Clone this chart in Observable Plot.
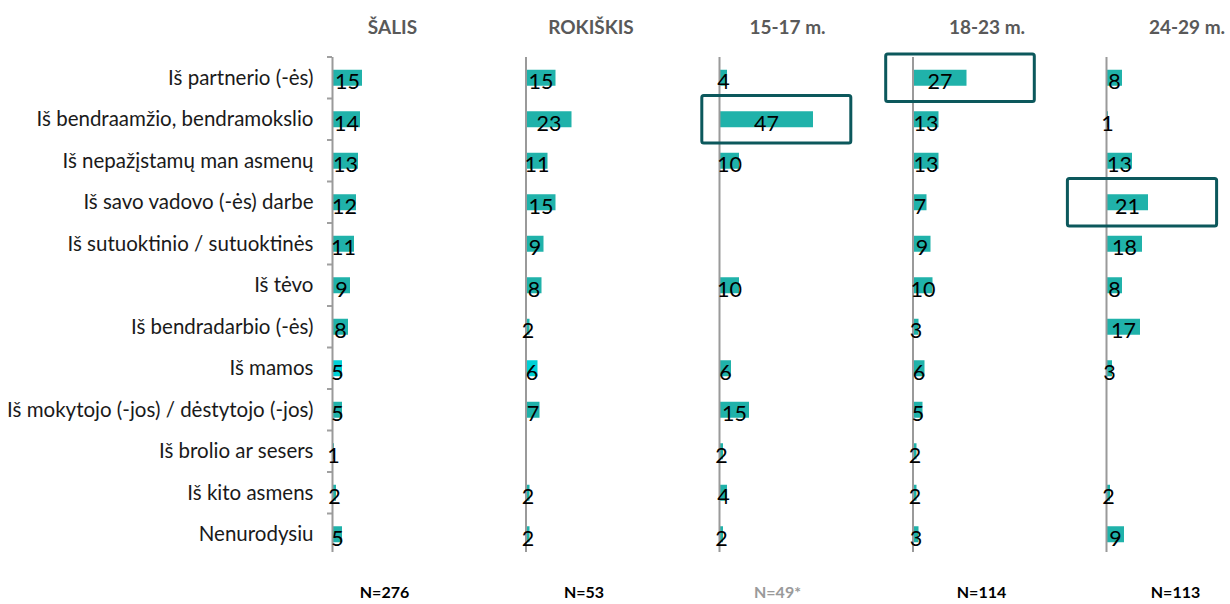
<!DOCTYPE html>
<html><head><meta charset="utf-8">
<script src="https://cdn.jsdelivr.net/npm/d3@7"></script>
<script src="https://cdn.jsdelivr.net/npm/@observablehq/plot@0.6"></script>
<style>body{margin:0;background:#fff}</style></head>
<body><div id="chart"></div>
<script>
// ---- data ----
const panels = ["ŠALIS", "ROKIŠKIS", "15-17 m.", "18-23 m.", "24-29 m."];
const sampleSizes = ["N=276", "N=53", "N=49*", "N=114", "N=113"];
const smallSamplePanels = ["15-17 m."];
const categories = [
  "Iš partnerio (-ės)",
  "Iš bendraamžio, bendramokslio",
  "Iš nepažįstamų man asmenų",
  "Iš savo vadovo (-ės) darbe",
  "Iš sutuoktinio / sutuoktinės",
  "Iš tėvo",
  "Iš bendradarbio (-ės)",
  "Iš mamos",
  "Iš mokytojo (-jos) / dėstytojo (-jos)",
  "Iš brolio ar sesers",
  "Iš kito asmens",
  "Nenurodysiu"
];
const salis    = [15, 14, 13, 12, 11, 9, 8, 5, 5, 1, 2, 5];
const rokiskis = [15, 23, 11, 15, 9, 8, 2, 6, 7, null, 2, 2];
const age1517  = [4, 47, 10, null, null, 10, null, 6, 15, 2, 4, 2];
const age1823  = [27, 13, 13, 7, 9, 10, 3, 6, 5, 2, 2, 3];
const age2429  = [8, 1, 13, 21, 18, 8, 17, 3, null, null, 2, 9];
const brightBars = [["ŠALIS", "Iš mamos"], ["ROKIŠKIS", "Iš mamos"]];
const highlights = [
  {panel: "15-17 m.", category: "Iš bendraamžio, bendramokslio", from: -8.6, to: 65.9},
  {panel: "18-23 m.", category: "Iš partnerio (-ės)", from: -13.4, to: 60.9},
  {panel: "24-29 m.", category: "Iš savo vadovo (-ės) darbe", from: -19.3, to: 55.3}
];

// ---- build table ----
const series = [salis, rokiskis, age1517, age1823, age2429];
const rows = [];
panels.forEach((p, i) => categories.forEach((c, j) => {
  const v = series[i][j];
  if (v != null) rows.push({panel: p, category: c, value: v});
}));
const nRows = panels.map((p, i) => ({panel: p, n: sampleSizes[i]}));
const isBright = d => brightBars.some(([p, c]) => p === d.panel && c === d.category);

// ---- layout ----
const W = 1230, H = 604, mL = 332, mR = 4, mT = 57, mB = 49;
const step = 193.5, bw = 120;
const pInner = (step - bw) / step;
const rowStep = (H - mT - mB) / categories.length;
const barInset = (rowStep - 16) / 2;
const headerDx = [60, 65, 68, 74, 80.5];
const nDx = [52, 58, 58, 68.5, 69];

const chart = Plot.plot({
  width: W, height: H,
  marginLeft: mL, marginRight: mR, marginTop: mT, marginBottom: mB,
  style: {fontFamily: "Lato, sans-serif", fontSize: "20.5px", color: "#1a1a1a", background: "#fff"},
  fx: {domain: panels, paddingInner: pInner, paddingOuter: 0, round: false, axis: null, label: null},
  x: {domain: [0, 60], axis: null},
  y: {domain: categories, padding: 0, round: false, tickSize: 0, tickPadding: 19, label: null},
  marks: [
    Plot.barX(categories, {y: d => d, fx: () => "ŠALIS", x1: -2.5, x2: 0, fill: "#a0a0a0",
      insetTop: -1, insetBottom: rowStep - 1}),
    Plot.barX(rows, {fx: "panel", y: "category", x: "value",
      fill: d => isBright(d) ? "#00D0D6" : "#20B2AA",
      insetTop: barInset, insetBottom: barInset}),
    Plot.ruleX([0], {stroke: "#9a9a9a", strokeWidth: 2, insetBottom: 3}),
    Plot.text(rows, {fx: "panel", y: "category", x: d => d.value / 2, text: d => String(d.value),
      fontSize: 21.5, fill: "#000", dy: 4}),
    Plot.barX(highlights, {fx: "panel", y: "category", x1: "from", x2: "to",
      fill: "none", stroke: "#0C585C", strokeWidth: 3, insetTop: -3, insetBottom: -3, rx: 2}),
    Plot.text(panels, {fx: d => d, x: (d, i) => headerDx[i] / 2, text: d => d,
      frameAnchor: "top", lineAnchor: "middle", dy: -30,
      fontWeight: "bold", fontSize: 19, fill: "#595959"}),
    Plot.text(nRows, {fx: "panel", x: (d, i) => nDx[i] / 2, text: "n",
      frameAnchor: "bottom", lineAnchor: "middle", dy: 37, fontWeight: "bold", fontSize: 16,
      fill: d => smallSamplePanels.includes(d.panel) ? "#9a9a9a" : "#000"})
  ]
});
document.getElementById("chart").appendChild(chart);
</script>
</body></html>
